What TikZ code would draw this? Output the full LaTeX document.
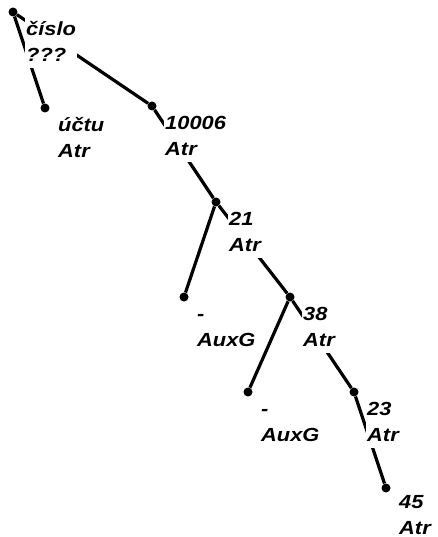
\documentclass[tikz,border=0pt]{standalone}
\usepackage{fontspec}
\newfontfamily\labfont[FakeStretch=1.15]{Liberation Sans}
\newcommand\lstrut{\rule[-6pt]{0pt}{22pt}}
\begin{document}
\begin{tikzpicture}[x=1pt,y=-1pt,
  dot/.style={circle,fill=black,inner sep=0pt,minimum size=9pt},
  edge/.style={line width=3.2pt},
  lab/.style={fill=white,inner sep=1pt,anchor=north west,align=left,
    font=\labfont\bfseries\itshape\fontsize{19pt}{26pt}\selectfont}]
\useasboundingbox (0,0) rectangle (437,537);
% dots
\node[dot] (r) at (13,12) {};
\node[dot] (u) at (45,108) {};
\node[dot] (a) at (152,106) {};
\node[dot] (b) at (216,202) {};
\node[dot] (c) at (184,297) {};
\node[dot] (d) at (290,297) {};
\node[dot] (e) at (248,392) {};
\node[dot] (f) at (354,392) {};
\node[dot] (g) at (386,488) {};
% edges
\draw[edge] (r) -- (u);
\draw[edge] (r) -- (a);
\draw[edge] (a) -- (b);
\draw[edge] (b) -- (c);
\draw[edge] (b) -- (d);
\draw[edge] (d) -- (e);
\draw[edge] (d) -- (f);
\draw[edge] (f) -- (g);
% labels
\node[lab] (lr) at ([shift={(12,6)}]r) {\lstrut číslo\\\lstrut ???};
\node[lab] (lu) at ([shift={(12,6)}]u) {\lstrut účtu\\\lstrut Atr};
\node[lab] (la) at ([shift={(12,6)}]a) {\lstrut 10006\\\lstrut Atr};
\node[lab] (lb) at ([shift={(12,6)}]b) {\lstrut 21\\\lstrut Atr};
\node[lab] (lc) at ([shift={(12,6)}]c) {\lstrut -\\\lstrut AuxG};
\node[lab] (ld) at ([shift={(12,6)}]d) {\lstrut 38\\\lstrut Atr};
\node[lab] (le) at ([shift={(12,6)}]e) {\lstrut -\\\lstrut AuxG};
\node[lab] (lf) at ([shift={(12,6)}]f) {\lstrut 23\\\lstrut Atr};
\node[lab] (lg) at ([shift={(12,3)}]g) {\lstrut 45\\\lstrut Atr};
\end{tikzpicture}
\end{document}
